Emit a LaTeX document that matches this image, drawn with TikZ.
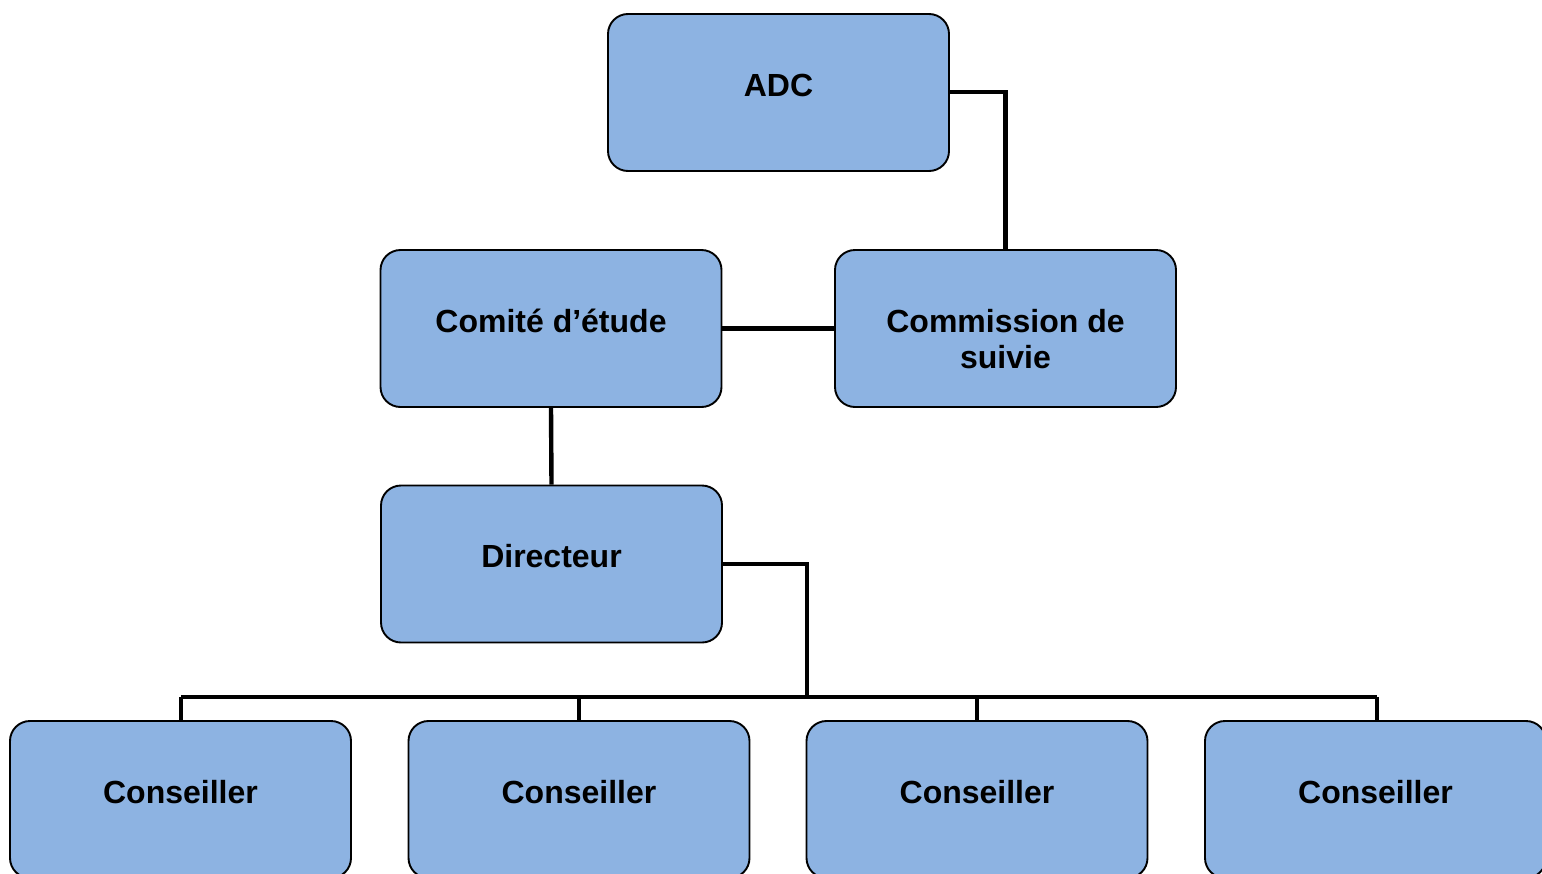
\documentclass[tikz,border=0pt]{standalone}
\usepackage{fontspec}
\setmainfont{Liberation Sans}
\usetikzlibrary{calc}
\definecolor{boxblue}{RGB}{141,179,226}
\tikzset{
  orgbox/.style={draw=black, line width=0.95pt, fill=boxblue, rounded corners=10pt,
    minimum width=170.5pt, minimum height=78.5pt, inner sep=0pt},
  orgtext/.style={anchor=base, align=center, inner sep=0pt,
    font=\fontsize{16}{18}\selectfont\bfseries},
  link/.style={line width=2.2pt, black}
}
\begin{document}
\begin{tikzpicture}[x=0.5pt,y=-0.5pt]
\useasboundingbox (0,0) rectangle (1542,873);
% boxes
\node[orgbox] (adc) at (778.5,92.5) {};
\node[orgbox] (comite) at (551,328.5) {};
\node[orgbox] (commission) at (1005.5,328.5) {};
\node[orgbox] (directeur) at (551.5,564) {};
\node[orgbox] (c1) at (180.5,799.5) {};
\node[orgbox] (c2) at (579,799.5) {};
\node[orgbox] (c3) at (977,799.5) {};
\node[orgbox] (c4) at (1375.5,799.5) {};
% texts
\node[orgtext] (tadc) at ($(adc.north)+(0,83)$) {ADC};
\node[orgtext] (tcomite) at ($(comite.north)+(0,83)$) {Comité d’étude};
\node[orgtext] (tcom1) at ($(commission.north)+(0,83)$) {Commission de};
\node[orgtext] (tcom2) at ($(commission.north)+(0,119)$) {suivie};
\node[orgtext] (tdir) at ($(directeur.north)+(0,83)$) {Directeur};
\node[orgtext] (tc1) at ($(c1.north)+(0,83)$) {Conseiller};
\node[orgtext] (tc2) at ($(c2.north)+(0,83)$) {Conseiller};
\node[orgtext] (tc3) at ($(c3.north)+(0,83)$) {Conseiller};
\node[orgtext] (tc4) at ($(c4.north)+(0,83)$) {Conseiller};
% connector coordinates
\coordinate (busl) at (181,697);
\coordinate (busr) at (1377,697);
\coordinate (dirdown) at (807,697);
% connectors
\draw[link] (adc.east |- 0,92) -| (commission.north);
\draw[link] (comite.east) -- (commission.west);
\draw[link] (comite.south) -- (directeur.north);
\draw[link] (directeur.east) -| (dirdown);
\draw[link] (busl) -- (busr);
\draw[link] (c1.north -| busl) -- (busl);
\draw[link] (c2.north) -- (c2.north |- busl);
\draw[link] (c3.north) -- (c3.north |- busl);
\draw[link] (c4.north -| busr) -- (busr);
\end{tikzpicture}
\end{document}
